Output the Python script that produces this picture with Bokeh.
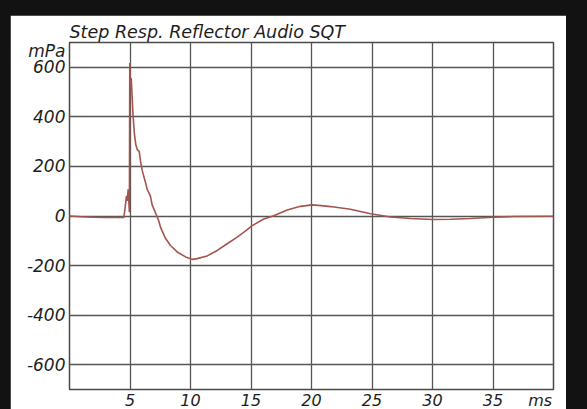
from bokeh.plotting import figure
from bokeh.models import FixedTicker, Range1d
from bokeh.embed import file_html
from bokeh.resources import INLINE

# ---- data ----
time_ms = [0, 1, 2, 3, 4, 4.49, 4.60, 4.71, 4.77, 4.85, 4.90, 4.95, 4.98, 5.03, 5.10,
           5.21, 5.26, 5.37, 5.48, 5.60, 5.76, 5.87, 6.01, 6.28, 6.42, 6.69, 6.83,
           7.11, 7.38, 7.52, 7.93, 8.35, 8.90, 9.59, 10.14, 10.55, 11.38, 12.21,
           13.03, 13.86, 14.69, 15.10, 16.06, 16.88, 17.99, 19.09, 20.06, 21.02,
           21.57, 23.22, 24.88, 26.53, 28.18, 30.0, 31.49, 33.14, 35.02, 36.69, 39.98]
pressure_mpa = [0, -3, -5, -6, -6, -6, 35, 81, 61, 108, 61, 15, 617, 520, 557,
                448, 401, 328, 288, 268, 261, 221, 183, 135, 108, 80, 45,
                12, -20, -45, -90, -119, -145, -165, -175, -172, -161, -139,
                -112, -85, -55, -39, -12, 1, 24, 39, 45, 41,
                38, 27, 9, -4, -10, -14, -13, -10, -5, -2, -1]

x_ticks = [5, 10, 15, 20, 25, 30, 35]
x_tick_labels = ["5", "10", "15", "20", "25", "30", "35"]
y_ticks = [-600, -400, -200, 0, 200, 400, 600]
y_tick_labels = ["-600", "-400", "-200", "0", "200", "400", "600"]

title_text = "Step Resp. Reflector Audio SQT"
y_unit = "mPa"
x_unit = "ms"
Y_UNIT_POS = 665    # where the unit text sits on the value axis
X_UNIT_POS = 38.9   # where the unit text sits on the time axis

FONT = "DejaVu Sans"
TXT = "#1e1e1e"

p = figure(frame_width=484, frame_height=347,
           x_range=Range1d(0, 40), y_range=Range1d(-700, 700),
           output_backend="svg", toolbar_location=None,
           min_border_left=59, min_border_right=13, min_border_top=27, min_border_bottom=10,
           background_fill_color="white", border_fill_color="white")

p.title.text = title_text
p.title.align = "left"
p.title.text_font = FONT
p.title.text_font_style = "italic"
p.title.text_font_size = "17.5px"
p.title.text_color = TXT
p.title.standoff = 1

p.outline_line_color = "#4a4a4a"
p.outline_line_width = 1.5

xa, ya = p.xaxis[0], p.yaxis[0]
xa.ticker = FixedTicker(ticks=x_ticks + [X_UNIT_POS])
xa.major_label_overrides = dict(zip(x_ticks, x_tick_labels)) | {X_UNIT_POS: x_unit}
ya.ticker = FixedTicker(ticks=y_ticks + [Y_UNIT_POS])
ya.major_label_overrides = dict(zip(y_ticks, y_tick_labels)) | {Y_UNIT_POS: y_unit}

for ax, fs, so in ((xa, "16px", 1), (ya, "17px", 4)):
    ax.axis_line_color = None
    ax.major_tick_line_color = None
    ax.minor_tick_line_color = None
    ax.major_tick_out = 0
    ax.major_tick_in = 0
    ax.major_label_text_font = FONT
    ax.major_label_text_font_style = "italic"
    ax.major_label_text_font_size = fs
    ax.major_label_text_color = TXT
    ax.major_label_standoff = so

p.xgrid.ticker = FixedTicker(ticks=x_ticks)
p.ygrid.ticker = FixedTicker(ticks=y_ticks)
for g in (p.xgrid[0], p.ygrid[0]):
    g.grid_line_color = "#555555"
    g.grid_line_width = 1.3
    g.grid_line_alpha = 1.0

p.line(time_ms, pressure_mpa, line_color="#a3554f", line_width=1.6)

tmpl = ("{% block postamble %}<style>html, body {margin: 0; background-color: #121212; "
        "overflow: hidden;} body {padding: 15px 0 0 10px; box-sizing: border-box;}</style>{% endblock %}")

open("out.html", "w").write(file_html(p, INLINE, template=tmpl))
